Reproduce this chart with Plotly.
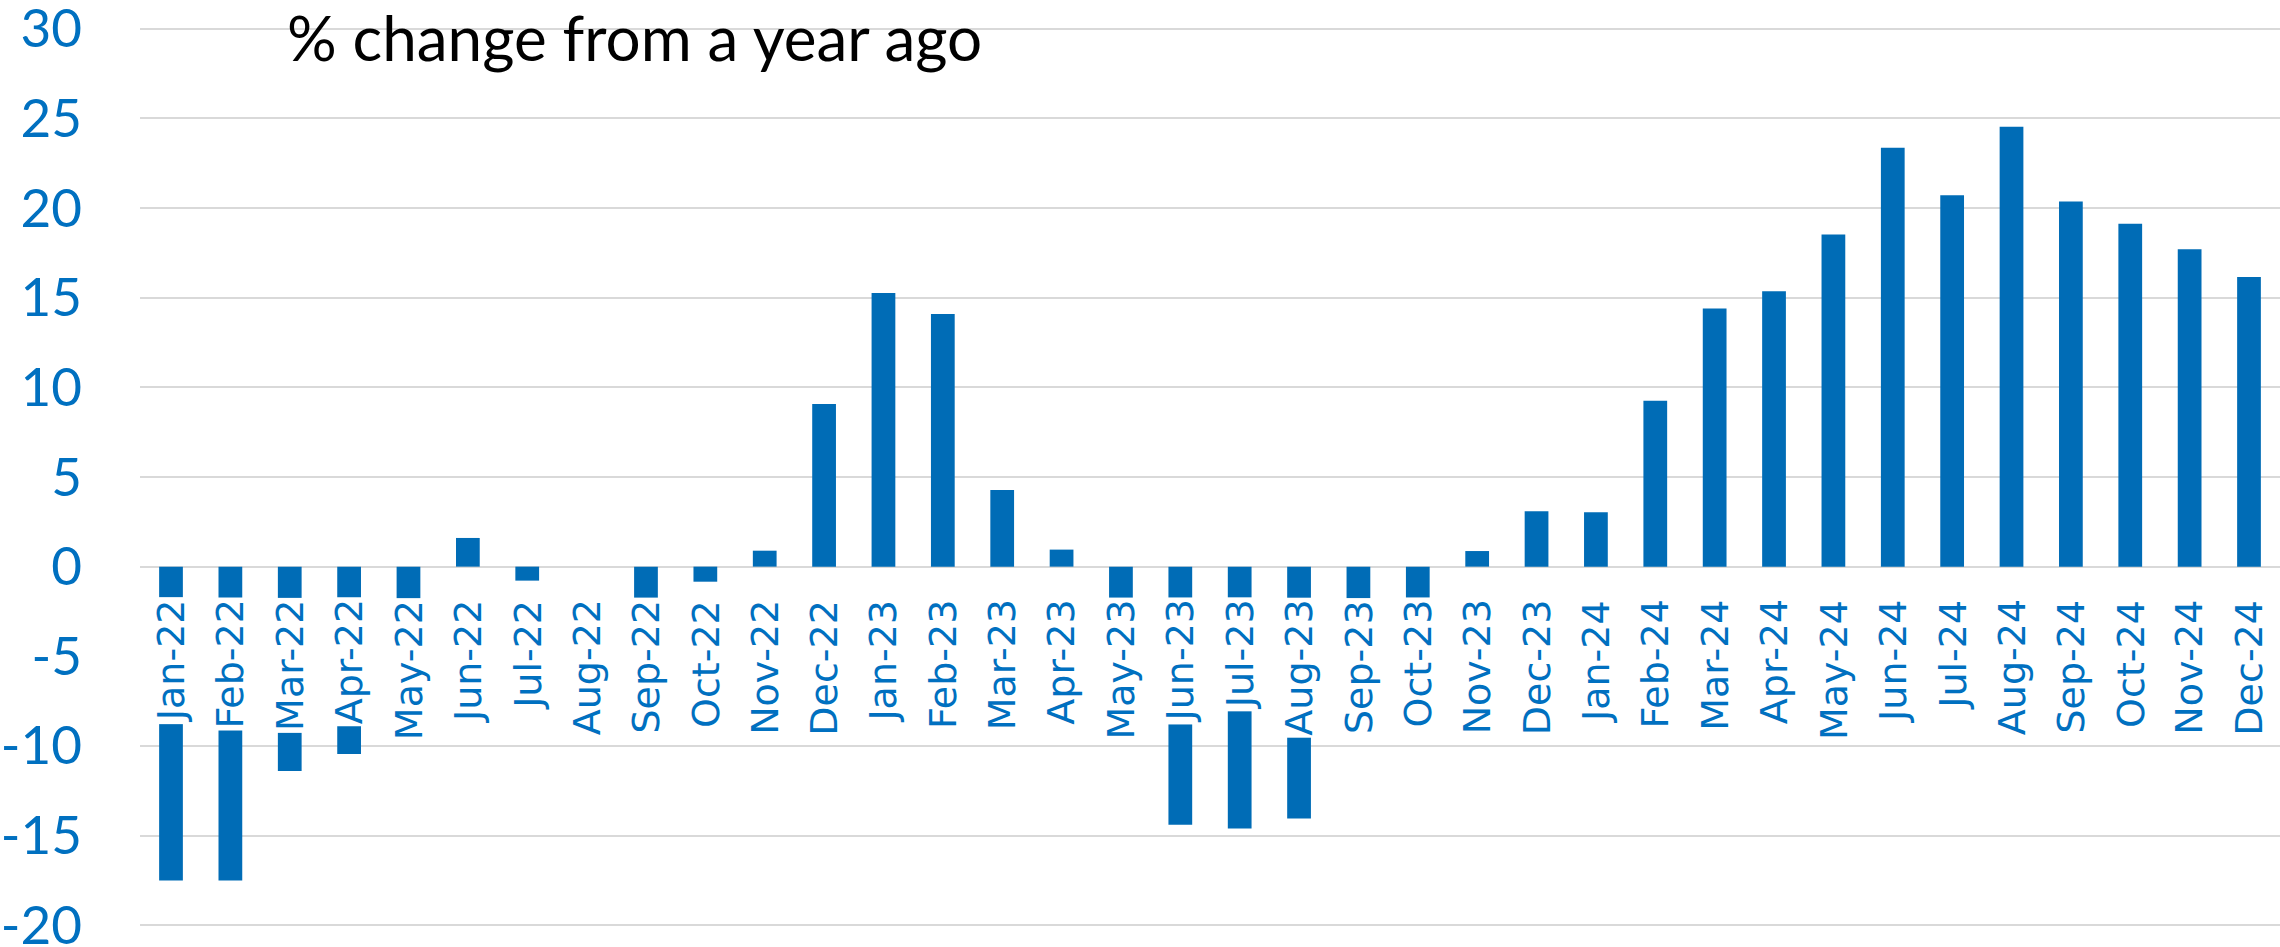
import plotly.graph_objects as go

months = ["Jan-22", "Feb-22", "Mar-22", "Apr-22", "May-22", "Jun-22", "Jul-22", "Aug-22",
          "Sep-22", "Oct-22", "Nov-22", "Dec-22", "Jan-23", "Feb-23", "Mar-23", "Apr-23",
          "May-23", "Jun-23", "Jul-23", "Aug-23", "Sep-23", "Oct-23", "Nov-23", "Dec-23",
          "Jan-24", "Feb-24", "Mar-24", "Apr-24", "May-24", "Jun-24", "Jul-24", "Aug-24",
          "Sep-24", "Oct-24", "Nov-24", "Dec-24"]
pct_change = [-17.5, -17.5, -11.4, -10.45, -4.5, 1.6, -0.78, 0.0,
              -3.5, -0.84, 0.89, 9.07, 15.26, 14.09, 4.28, 0.95,
              -6.0, -14.4, -14.6, -14.05, -4.0, -3.0, 0.87, 3.09,
              3.03, 9.25, 14.4, 15.36, 18.52, 23.36, 20.72, 24.53,
              20.36, 19.13, 17.70, 16.15]
y_ticks = [-20, -15, -10, -5, 0, 5, 10, 15, 20, 25, 30]
title_text = "% change from a year ago"

BAR_BLUE = "#006CB6"
TEXT_BLUE = "#0070C0"
GRID = "#D9D9D9"

fig = go.Figure()
fig.add_trace(go.Bar(
    x=months, y=pct_change,
    marker=dict(color=BAR_BLUE, line=dict(width=0)),
    hoverinfo="x+y",
))

annotations = []
for m in months:
    annotations.append(dict(
        x=m, y=0, xref="x", yref="y",
        text=m, showarrow=False, textangle=-90,
        xanchor="center", yanchor="top", yshift=-31,
        height=58, borderpad=2, borderwidth=0,
        bgcolor="white",
        font=dict(family="DejaVu Sans", size=38, color=TEXT_BLUE),
    ))
annotations.append(dict(
    x=0.068, y=1, xref="paper", yref="paper",
    text=title_text, showarrow=False,
    xanchor="left", yanchor="middle", yshift=-10,
    borderpad=0,
    font=dict(family="Lato", size=62, color="black"),
))

fig.update_layout(
    width=2280, height=947,
    margin=dict(l=140, r=0, t=27, b=20, autoexpand=False),
    paper_bgcolor="white", plot_bgcolor="white",
    bargap=0.6,
    showlegend=False,
    annotations=annotations,
    xaxis=dict(showticklabels=False, showgrid=False, zeroline=False, showline=False,
               ticks="", automargin=False),
    yaxis=dict(
        range=[-20.1, 30.1], tickvals=y_ticks, ticktext=[str(v) for v in y_ticks],
        showgrid=True, gridcolor=GRID, gridwidth=2,
        zeroline=True, zerolinecolor=GRID, zerolinewidth=2,
        showline=False, ticks="", ticklabelstandoff=57,
        ticklabeloverflow="allow", automargin=False,
        tickfont=dict(family="Lato", size=53, color=TEXT_BLUE),
    ),
)

fig.write_html("out.html")
